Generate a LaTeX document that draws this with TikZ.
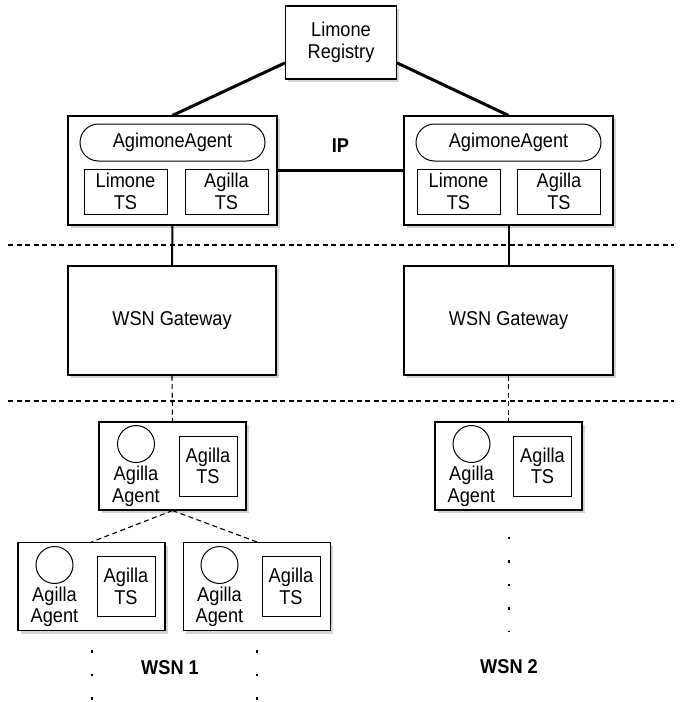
\documentclass[tikz,border=0pt]{standalone}
\usepackage{fontspec}
\setmainfont{Liberation Sans}[FakeStretch=0.91]
\usetikzlibrary{shadows}

\begin{document}
\begin{tikzpicture}[x=1pt,y=-1pt,
    every node/.style={font=\fontsize{20}{21.5}\selectfont},
    box/.style={draw,fill=white,line width=1.1pt,inner sep=0pt,align=center,
      drop shadow={shadow xshift=2.5pt,shadow yshift=-3pt,opacity=0.35}},
    inbox/.style={draw,line width=1pt,inner sep=0pt,align=center},
    ts/.style={inbox,minimum width=83pt,minimum height=45pt},
    agts/.style={inbox,minimum width=58pt,minimum height=60pt},
    agbox/.style={box,minimum width=147pt,minimum height=88pt},
    blob/.style={draw,line width=1pt,circle,minimum size=37pt,inner sep=0pt},
    pill/.style={draw,line width=1pt,rounded corners=18.5pt,minimum width=185pt,minimum height=37pt,inner sep=0pt},
    link/.style={line width=3pt},
    dashline/.style={line width=1.1pt,dash pattern=on 5pt off 3.5pt},
    dotline/.style={line width=2pt,dash pattern=on 2.5pt off 21pt}]
        \useasboundingbox (0,0) rectangle (689,702);
        % IP level
        \node[box,minimum width=111pt,minimum height=73pt] (reg) at (341,42.5) {Limone\\Registry};
        \node[box,minimum width=209pt,minimum height=109pt] (hostL) at (172.5,170.5) {};
        \node[box,minimum width=209pt,minimum height=109pt] (hostR) at (508.5,170.5) {};
        \node[pill] (amL) at (172.5,142.5) {AgimoneAgent};
        \node[pill] (amR) at (508.5,142.5) {AgimoneAgent};
        \node[ts] (limL) at (125.5,191.5) {Limone\\TS};
        \node[ts] (agsL) at (226.5,191.5) {Agilla\\TS};
        \node[ts] (limR) at (458.5,191.5) {Limone\\TS};
        \node[ts] (agsR) at (559,191.5) {Agilla\\TS};
        \draw[link] (reg.200) -- (hostL.north);
        \draw[link] (reg.-20) -- (hostR.north);
        \draw[link] (hostL.east) -- (hostR.west);
        \node[font=\fontsize{20}{21.5}\selectfont\bfseries] (ip) at (340.5,146) {IP};
        % gateways
        \draw[dashline] (8,245) -- (674,245);
        \node[box,minimum width=208pt,minimum height=109pt] (gwL) at (172,320.5) {WSN Gateway};
        \node[box,minimum width=209pt,minimum height=109pt] (gwR) at (508.5,320.5) {WSN Gateway};
        \draw[line width=2pt] (hostL.south) -- (gwL.north);
        \draw[line width=2pt] (hostR.south) -- (gwR.north);
        \draw[dashline] (8,401) -- (674,401);
        % WSN 1
        \node[agbox] (n1) at (172.5,466) {};
        \node[blob] (n1a) at (136,444) {};
        \node[align=center] (n1t) at (136,486.5) {Agilla\\Agent};
        \node[agts] (n1s) at (208,466) {Agilla\\TS};
        \node[agbox] (n2) at (91.5,586.5) {};
        \node[blob] (n2a) at (54.5,565) {};
        \node[align=center] (n2t) at (54.5,607) {Agilla\\Agent};
        \node[agts] (n2s) at (126,586.5) {Agilla\\TS};
        \node[agbox] (n3) at (257,586.5) {};
        \node[blob] (n3a) at (219.5,565) {};
        \node[align=center] (n3t) at (219.5,607) {Agilla\\Agent};
        \node[agts] (n3s) at (291,586.5) {Agilla\\TS};
        \draw[dashline] (gwL.south) -- (n1.north);
        \draw[dashline] (n1.south) -- (n2.north);
        \draw[dashline] (n1.south) -- (n3.north);
        \coordinate (e2) at (91.5,702);
        \coordinate (e3) at (257,702);
        \draw[dotline] ([yshift=-19pt]n2.south) -- (e2);
        \draw[dotline] ([yshift=-19pt]n3.south) -- (e3);
        \node[font=\fontsize{20}{21.5}\selectfont\bfseries] (wsn1) at (170,668) {WSN 1};
        % WSN 2
        \node[agbox] (m1) at (508.5,466) {};
        \node[blob] (m1a) at (471.5,444) {};
        \node[align=center] (m1t) at (471.5,486.5) {Agilla\\Agent};
        \node[agts] (m1s) at (542.5,466) {Agilla\\TS};
        \draw[dashline] (gwR.south) -- (m1.north);
        \coordinate (e1) at (508.5,632);
        \draw[dotline] ([yshift=-26pt]m1.south) -- (e1);
        \node[font=\fontsize{20}{21.5}\selectfont\bfseries] (wsn2) at (509,667) {WSN 2};
    \end{tikzpicture}
\end{document}
